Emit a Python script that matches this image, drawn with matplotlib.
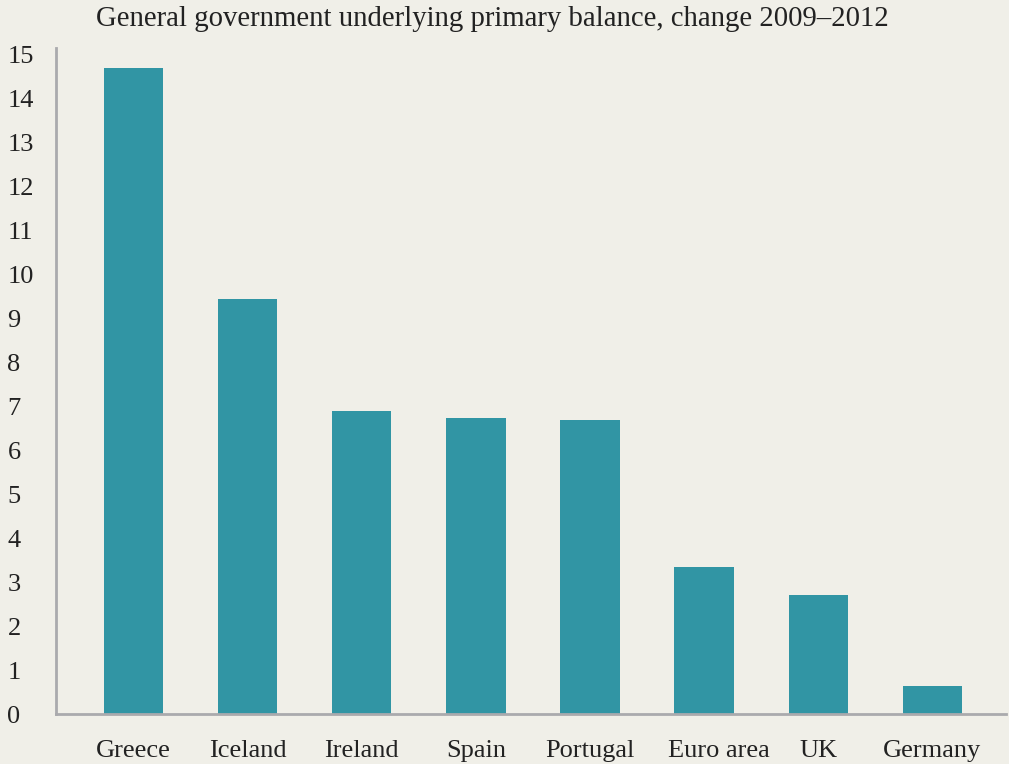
import matplotlib
matplotlib.use("Agg")
import matplotlib.pyplot as plt
from matplotlib.transforms import ScaledTranslation

# Data
countries = ["Greece", "Iceland", "Ireland", "Spain", "Portugal", "Euro area", "UK", "Germany"]
values = [14.7, 9.45, 6.9, 6.73, 6.7, 3.34, 2.7, 0.64]
yticks = list(range(0, 16))

bg = "#f0efe8"
bar_color = "#3195a4"
spine_color = "#aaaaad"

plt.rcParams["font.family"] = ["Liberation Serif", "DejaVu Serif"]

fig = plt.figure(figsize=(10.09, 7.64), dpi=100, facecolor=bg)
ax = fig.add_axes([0.0555, 0.0654, 0.9415, 0.8716], facecolor=bg)

x = list(range(len(countries)))
ax.bar(x, values, width=0.52, color=bar_color, zorder=2)

ax.set_xlim(-0.68, len(countries) - 1 + 0.645)
ax.set_ylim(0, 15.15)
ax.set_yticks(yticks)
ax.set_yticklabels([str(t) for t in yticks], fontsize=19, color="#222222")
ax.set_xticks(x)
ax.set_xticklabels(countries, fontsize=19, color="#222222")

for lab in ax.get_yticklabels():
    lab.set_horizontalalignment("left")
ax.tick_params(axis="y", length=0, pad=35)
ax.tick_params(axis="x", length=0, pad=19)

# the euro area label sits a bit right of its bar in the original
euro_lab = ax.get_xticklabels()[5]
euro_lab.set_transform(euro_lab.get_transform() + ScaledTranslation(0.15, 0, fig.dpi_scale_trans))

for side in ["top", "right"]:
    ax.spines[side].set_visible(False)
for side in ["left", "bottom"]:
    ax.spines[side].set_color(spine_color)
    ax.spines[side].set_linewidth(2)

fig.text(0.488, 0.975, "General government underlying primary balance, change 2009\u20132012",
         ha="center", va="center", fontsize=20.7, color="#222222")

fig.savefig("out.png", dpi=100, facecolor=bg)
